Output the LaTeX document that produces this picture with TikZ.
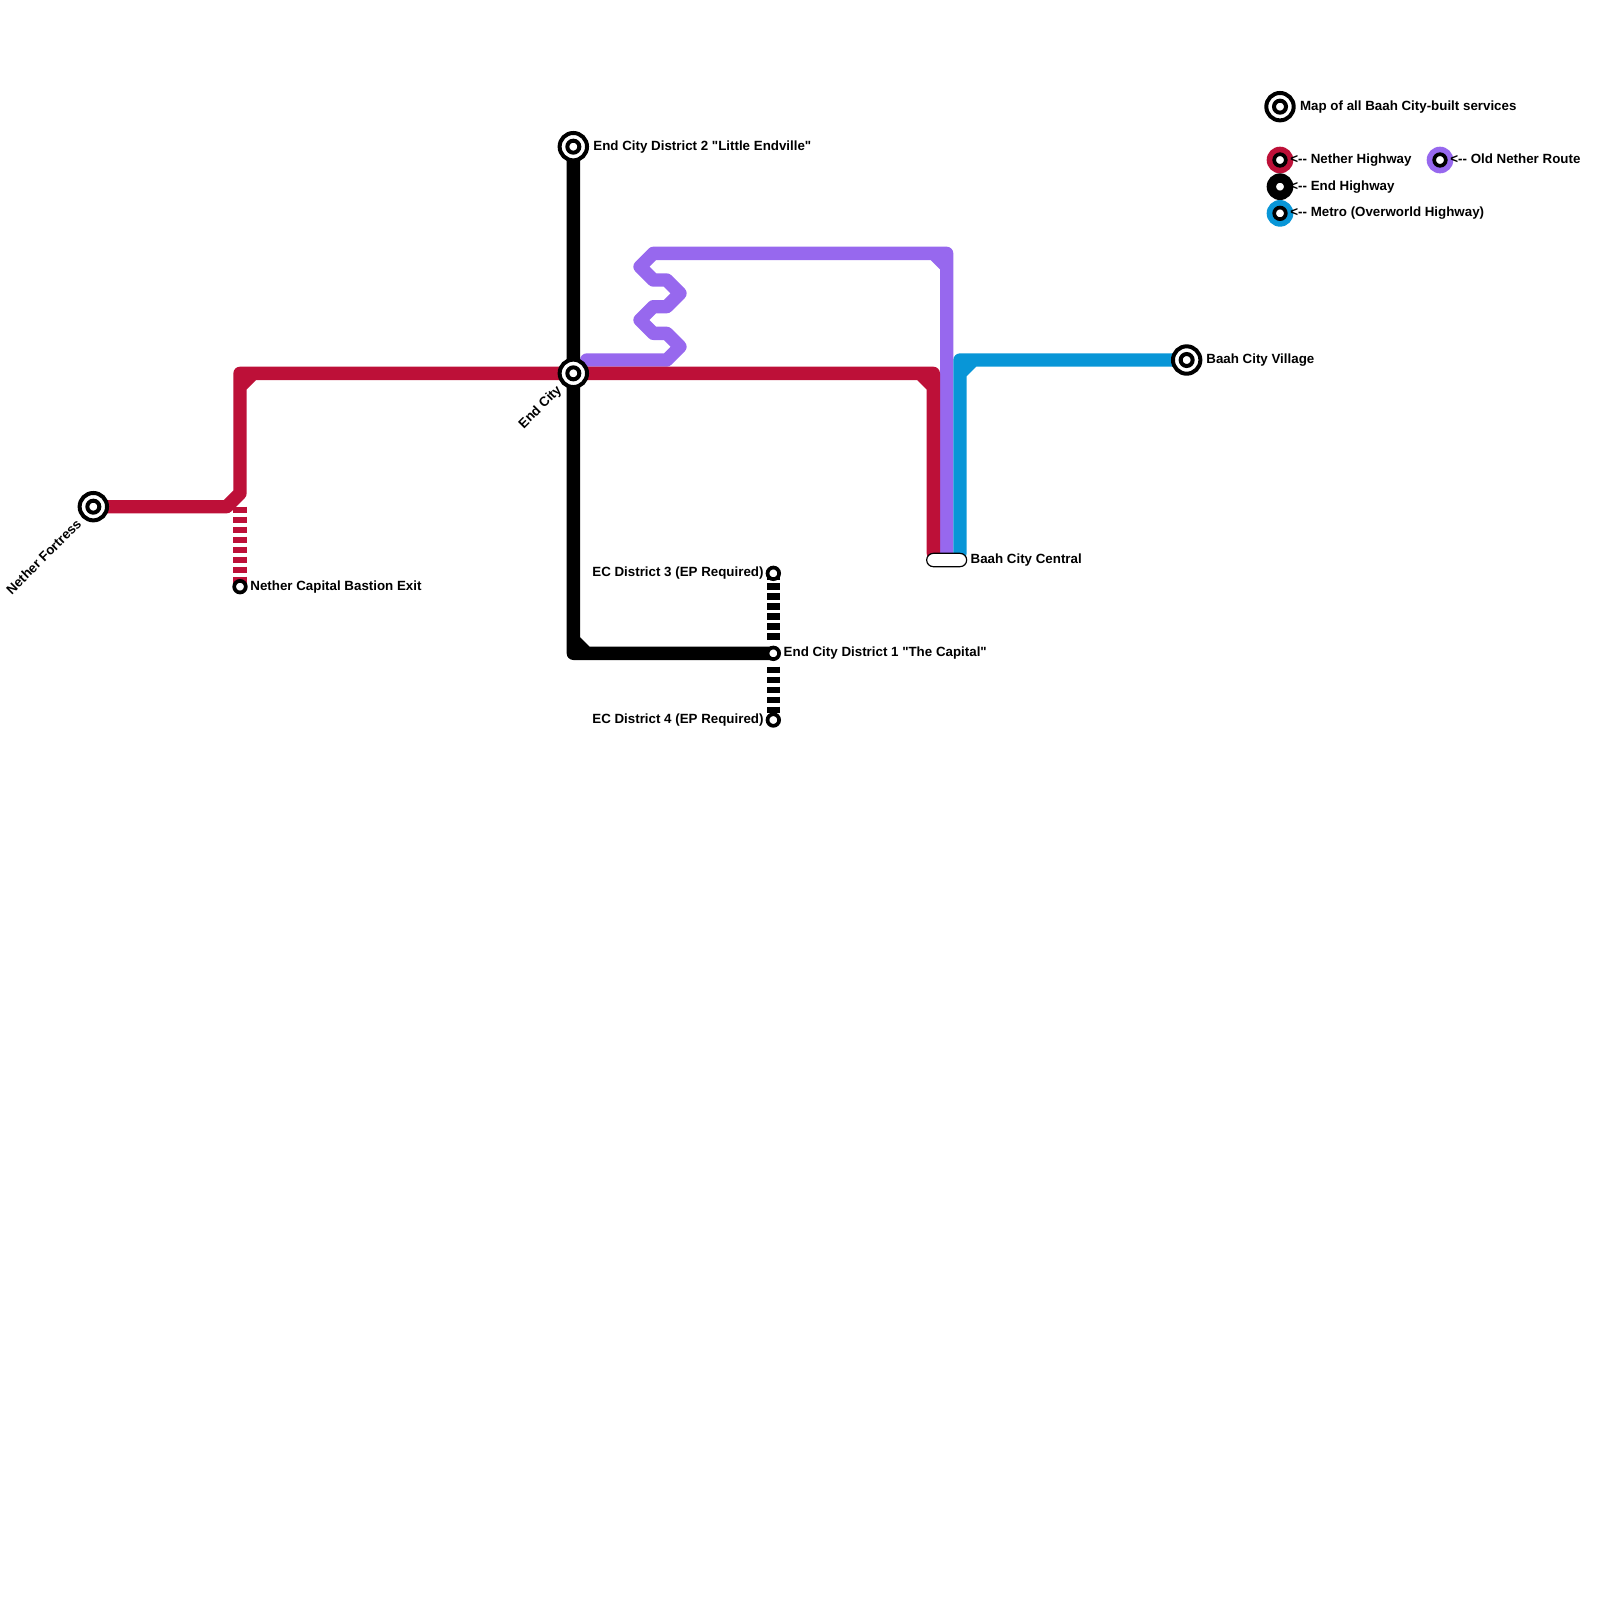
\documentclass[tikz,border=0pt]{standalone}
\usepackage{fontspec}
\usetikzlibrary{positioning,backgrounds}
\newfontfamily\mapfont{Liberation Sans}
\definecolor{netherred}{HTML}{BD1038}
\definecolor{oldpurple}{HTML}{9768EE}
\definecolor{metroblue}{HTML}{0896D7}
\tikzset{
  routeline/.style={line width=6.667pt, line cap=round, line join=round},
  accessline/.style={line width=6.667pt, line cap=butt, dash pattern=on 3.333pt off 1.667pt},
  hub/.style={circle, draw=black, fill=white, line width=2pt, minimum size=13.7pt, inner sep=0pt, outer sep=0pt,
    path picture={\draw[line width=2pt] (path picture bounding box.center) circle (3pt);}},
  stopring/.style={circle, draw=black, fill=white, line width=1.85pt, minimum size=5.8pt, inner sep=0pt, outer sep=0pt},
  keydisc/.style={circle, fill=#1, minimum size=13.333pt, inner sep=0pt, outer sep=0pt},
  mapname/.style={inner sep=0pt, outer sep=0pt, yshift=-.1pt, text height=4.8pt, text depth=1.4pt,
    font=\mapfont\bfseries\fontsize{6.667}{8}\selectfont},
}
\begin{document}
\begin{tikzpicture}[x=6.6667pt, y=-6.6667pt]
  \useasboundingbox (0,0) rectangle (120,120);

  % -- Stations --
  \node[hub] (fortress) at (7,38) {};
  \node[stopring] (bastion) at (18,44) {};
  \node[hub] (district2) at (43,11) {};
  \node[hub] (endcity) at (43,28) {};
  \node[stopring] (district3) at (58,43) {};
  \node[stopring] (district1) at (58,49) {};
  \node[stopring] (district4) at (58,54) {};
  \node[draw=black, fill=white, line width=.6pt, rounded corners=3.33pt, minimum width=20pt, minimum height=6.667pt, inner sep=0pt, outer sep=0pt] (central) at (71,42) {};
  \node[hub] (village) at (89,27) {};

  % -- Station names --
  \node[mapname, rotate=45, anchor=east] at ([shift={(-2pt,-3pt)}]fortress.south west) {Nether Fortress};
  \node[mapname, right=2.3pt of bastion] {Nether Capital Bastion Exit};
  \node[mapname, right=3.2pt of district2] {End City District 2 "Little Endville"};
  \node[mapname, rotate=45, anchor=east] at ([shift={(-2pt,-2.6pt)}]endcity.south west) {End City};
  \node[mapname, left=2pt of district3] {EC District 3 (EP Required)};
  \node[mapname, right=2.3pt of district1] {End City District 1 "The Capital"};
  \node[mapname, left=2pt of district4] {EC District 4 (EP Required)};
  \node[mapname, right=2pt of central] {Baah City Central};
  \node[mapname, right=3pt of village] {Baah City Village};

  % -- Routes --
  \begin{pgfonlayer}{background}
    \draw[routeline, oldpurple] (44,27) -- (50,27) -- (51,26) -- (50,25) -- (49,25) -- (48,24) -- (49,23) -- (50,23)
      -- (51,22) -- (50,21) -- (49,21) -- (48,20) -- (49,19) -- (71,19) -- (central.center) (70,19) -- (71,20);
    \draw[routeline, netherred] (fortress.center) -- (17,38) -- (18,37) -- (18,28) -- (endcity.center) -- (70,28)
      -- (70,41.5) (18,29) -- (19,28) (69,28) -- (70,29);
    \draw[accessline, netherred] (18,38) -- (bastion.center);
    \draw[routeline, black] (district2.center) -- (43,49) -- (district1.center) (43,48) -- (44,49);
    \draw[accessline, black] (district3.center) -- (58,48);
    \draw[accessline, black] (58,50) -- (district4.center);
    \draw[routeline, metroblue] (village.center) -- (72,27) -- (72,41.5) (72,28) -- (73,27);
  \end{pgfonlayer}

  % -- Key --
  \node[hub] (keyhub) at (96,8) {};
  \node[mapname, right=3.2pt of keyhub] {Map of all Baah City-built services};
  \node[keydisc=netherred] at (96,12) {};
  \node[stopring] (keynether) at (96,12) {};
  \node[mapname, right=2.3pt of keynether] {<-- Nether Highway};
  \node[keydisc=black] at (96,14) {};
  \node[stopring] (keyend) at (96,14) {};
  \node[mapname, right=2.3pt of keyend] {<-- End Highway};
  \node[keydisc=metroblue] at (96,16) {};
  \node[stopring] (keymetro) at (96,16) {};
  \node[mapname, right=2.3pt of keymetro] {<-- Metro (Overworld Highway)};
  \node[keydisc=oldpurple] at (108,12) {};
  \node[stopring] (keyold) at (108,12) {};
  \node[mapname, right=2.3pt of keyold] {<-- Old Nether Route};

\end{tikzpicture}
\end{document}
